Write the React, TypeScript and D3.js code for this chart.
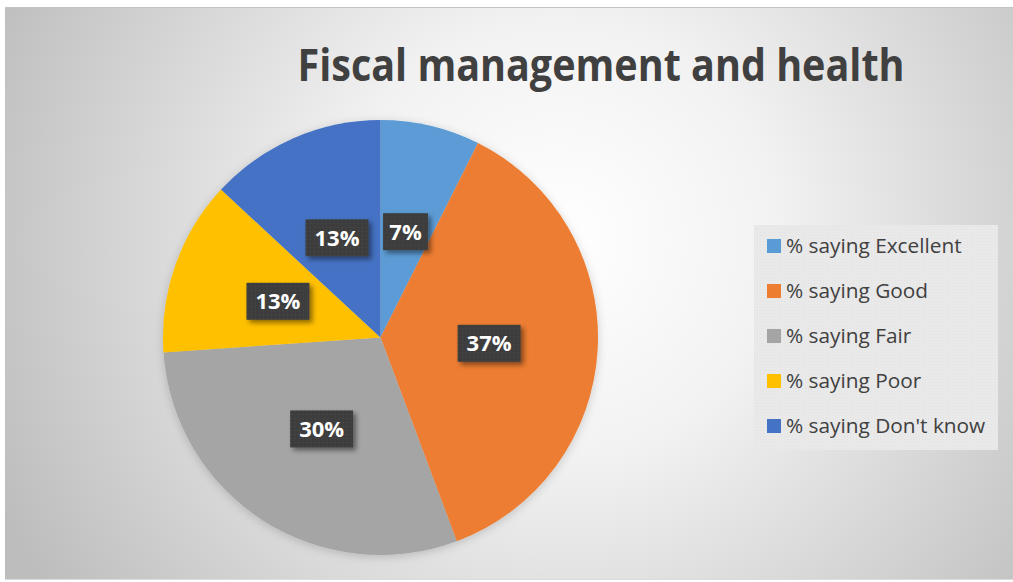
import React from "react";
import * as d3 from "d3";

const categories = ["% saying Excellent", "% saying Good", "% saying Fair", "% saying Poor", "% saying Don't know"];
const values = [7.4, 36.9, 29.6, 13.0, 13.1];
const colors = ["#5B9BD5", "#ED7D31", "#A5A5A5", "#FFC000", "#4472C4"];
const title = "Fiscal management and health";

const W = 1013, H = 582;
const cx = 380.5, cy = 337.5, R = 217.5;

export default function App() {
  const pie = d3.pie<number>().sort(null).value((d) => d)(values);
  const arc = d3.arc<d3.PieArcDatum<number>>().innerRadius(0).outerRadius(R);
  const labelArc = d3.arc<d3.PieArcDatum<number>>().innerRadius(R * 0.5).outerRadius(R * 0.5);
  const total = d3.sum(values);
  const fmt = d3.format(".0%");
  const legendY = d3.scalePoint<number>().domain(d3.range(categories.length)).range([246, 426]);

  return (
    <svg width={W} height={H} style={{ position: "absolute", left: 0, top: 0 }} xmlns="http://www.w3.org/2000/svg">
      <defs>
        <radialGradient id="bg" cx="560" cy="240" r="620" gradientUnits="userSpaceOnUse">
          <stop offset="0" stopColor="#ffffff" />
          <stop offset="0.35" stopColor="#f2f2f2" />
          <stop offset="1" stopColor="#bdbdbd" />
        </radialGradient>
        <pattern id="dots" width="4" height="4" patternUnits="userSpaceOnUse">
          <rect width="4" height="4" fill="#3c3c3c" />
          <rect x="1" y="1" width="1" height="1" fill="#4d4d4d" />
        </pattern>
        <pattern id="legpat" width="3" height="3" patternUnits="userSpaceOnUse">
          <rect width="3" height="3" fill="#e9e9e9" />
          <rect x="1" y="1" width="1" height="1" fill="#e2e2e2" />
        </pattern>
        <filter id="shadow" x="-30%" y="-30%" width="160%" height="160%">
          <feDropShadow dx="3" dy="3" stdDeviation="2.5" floodColor="#000" floodOpacity="0.45" />
        </filter>
        <filter id="pieglow" x="-20%" y="-20%" width="140%" height="140%">
          <feDropShadow dx="0" dy="2" stdDeviation="5" floodColor="#000" floodOpacity="0.18" />
        </filter>
      </defs>
      <rect x={0} y={0} width={W} height={H} fill="#ffffff" />
      <rect x={5} y={7} width={W - 5} height={573} fill="url(#bg)" />
      <line x1={5} x2={W} y1={7.5} y2={7.5} stroke="#c4c4c4" strokeWidth={1} />
      <line x1={5} x2={W} y1={579.5} y2={579.5} stroke="#dcdcdc" strokeWidth={1} />

      <text x={601} y={81} textAnchor="middle" fontFamily="'Open Sans', sans-serif" fontWeight={700} fontSize={44}
        fill="#404040" textLength={607} lengthAdjust="spacingAndGlyphs">{title}</text>

      <g transform={`translate(${cx},${cy})`} filter="url(#pieglow)">
        {pie.map((p, i) => (
          <path key={i} d={arc(p) || ""} fill={colors[i]} />
        ))}
      </g>

      <g transform={`translate(${cx},${cy})`}>
        {pie.map((p, i) => {
          const [lx, ly] = labelArc.centroid(p);
          const txt = fmt(values[i] / total);
          const w = txt.length === 2 ? 45 : 63;
          const h = 37;
          return (
            <g key={i} transform={`translate(${lx},${ly})`}>
              <rect x={-w / 2} y={-h / 2} width={w} height={h} fill="url(#dots)" filter="url(#shadow)" />
              <text x={0} y={8} textAnchor="middle" fontFamily="'Open Sans', sans-serif" fontWeight={700}
                fontSize={22} fill="#ffffff">{txt}</text>
            </g>
          );
        })}
      </g>

      <rect x={754} y={225} width={244} height={225} fill="url(#legpat)" />
      {categories.map((c, i) => (
        <g key={i}>
          <rect x={767} y={legendY(i)! - 7} width={14} height={14} fill={colors[i]} />
          <text x={786} y={legendY(i)! + 7} fontFamily="'Open Sans', sans-serif" fontSize={20.8} fill="#404040">{c}</text>
        </g>
      ))}
    </svg>
  );
}
